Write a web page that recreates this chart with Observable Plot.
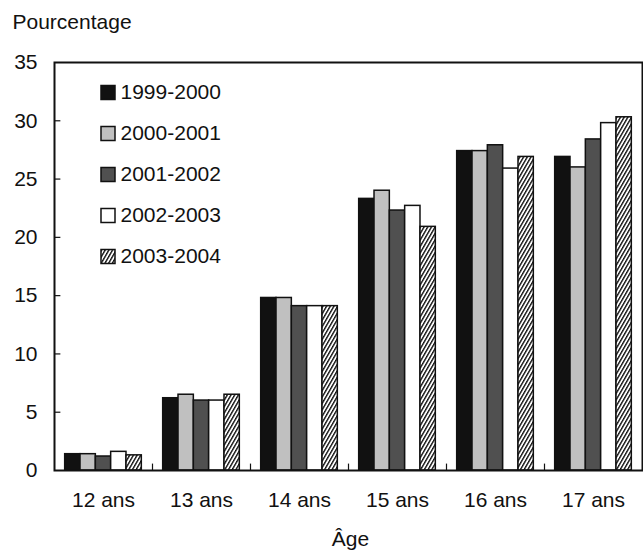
<!DOCTYPE html>
<html>
<head>
<meta charset="utf-8">
<script src="https://cdn.jsdelivr.net/npm/d3@7"></script>
<script src="https://cdn.jsdelivr.net/npm/@observablehq/plot@0.6"></script>
<style>
  html, body { margin: 0; padding: 0; background: #fff; }
</style>
</head>
<body>
<div id="chart"></div>
<script>
const ages = ["12 ans", "13 ans", "14 ans", "15 ans", "16 ans", "17 ans"];
const years = ["1999-2000", "2000-2001", "2001-2002", "2002-2003", "2003-2004"];
const v1999 = [1.4, 6.2, 14.8, 23.3, 27.4, 26.9];
const v2000 = [1.4, 6.5, 14.8, 24.0, 27.4, 26.0];
const v2001 = [1.2, 6.0, 14.1, 22.3, 27.9, 28.4];
const v2002 = [1.6, 6.0, 14.1, 22.7, 25.9, 29.8];
const v2003 = [1.3, 6.5, 14.1, 20.9, 26.9, 30.3];
const yTicks = [0, 5, 10, 15, 20, 25, 30, 35];
const fills = ["#111111", "#c0c0c0", "#505050", "#ffffff", "url(#hatch)"];

const series = [v1999, v2000, v2001, v2002, v2003];
const rows = [];
ages.forEach((age, gi) => {
  series.forEach((vals, sj) => {
    rows.push({age, year: years[sj], value: vals[gi], gi, sj});
  });
});

const pad = 0.109;
const bw = (1 - 2 * pad) / years.length;
const groupIdx = ages.map((d, i) => i);
const separators = ages.slice(1).map((d, i) => i + 1);
const font = "'Liberation Sans', Arial, Helvetica, sans-serif";

const legendMarks = years.flatMap((yr, i) => [
  Plot.dot([yr], {frameAnchor: "top-left", dx: 53.5, dy: 30 + 41 * i, symbol: "square", r: 7.9,
    fill: d => d, stroke: "#111", strokeWidth: 1.5}),
  Plot.text([yr], {frameAnchor: "top-left", dx: 66, dy: 30 + 41 * i, text: d => d,
    textAnchor: "start", lineAnchor: "middle", fill: "#111"})
]);

const svg = Plot.plot({
  width: 643,
  height: 551,
  marginLeft: 54,
  marginRight: 1,
  marginTop: 62,
  marginBottom: 81,
  style: {fontFamily: font, fontSize: "21px", background: "#fff", color: "#111", overflow: "visible"},
  x: {type: "linear", domain: [0, ages.length], axis: null},
  y: {domain: [0, 35], axis: null},
  color: {type: "ordinal", domain: years, range: fills},
  marks: [
    Plot.rect(rows, {
      x1: d => d.gi + pad + d.sj * bw,
      x2: d => d.gi + pad + (d.sj + 1) * bw,
      y1: 0,
      y2: "value",
      fill: "year",
      stroke: "#111",
      strokeWidth: 1.5
    }),
    Plot.ruleY(yTicks.slice(1, -1), {x1: 0, x2: 0.065, stroke: "#111", strokeWidth: 1.2}),
    Plot.ruleX(separators, {y1: 0, y2: 0.55, stroke: "#111", strokeWidth: 1.2}),
    Plot.axisY({ticks: yTicks, tickSize: 0, tickPadding: 17, tickFormat: d => String(d), label: null, fill: "#111"}),
    Plot.axisX({ticks: groupIdx.map(i => i + 0.5), tickSize: 0, tickPadding: 22,
      tickFormat: d => ages[Math.round(d - 0.5)], label: null, fill: "#111"}),
    Plot.frame({stroke: "#111", strokeWidth: 2}),
    ...legendMarks,
    Plot.text(["Pourcentage"], {frameAnchor: "top-left", dx: -42, dy: -34, text: d => d,
      textAnchor: "start", lineAnchor: "bottom", fill: "#111"}),
    Plot.text(["Âge"], {frameAnchor: "bottom", dx: 2, dy: 75, text: d => d,
      textAnchor: "middle", lineAnchor: "bottom", fill: "#111"})
  ]
});

const defs = d3.select(svg).insert("defs", ":first-child");
const pat = defs.append("pattern")
  .attr("id", "hatch")
  .attr("patternUnits", "userSpaceOnUse")
  .attr("width", 3.2)
  .attr("height", 3.2)
  .attr("patternTransform", "rotate(30)");
pat.append("rect").attr("width", 3.2).attr("height", 3.2).attr("fill", "#fff");
pat.append("rect").attr("x", 0).attr("y", 0).attr("width", 1.4).attr("height", 3.2).attr("fill", "#111");

document.getElementById("chart").appendChild(svg);
</script>
</body>
</html>
